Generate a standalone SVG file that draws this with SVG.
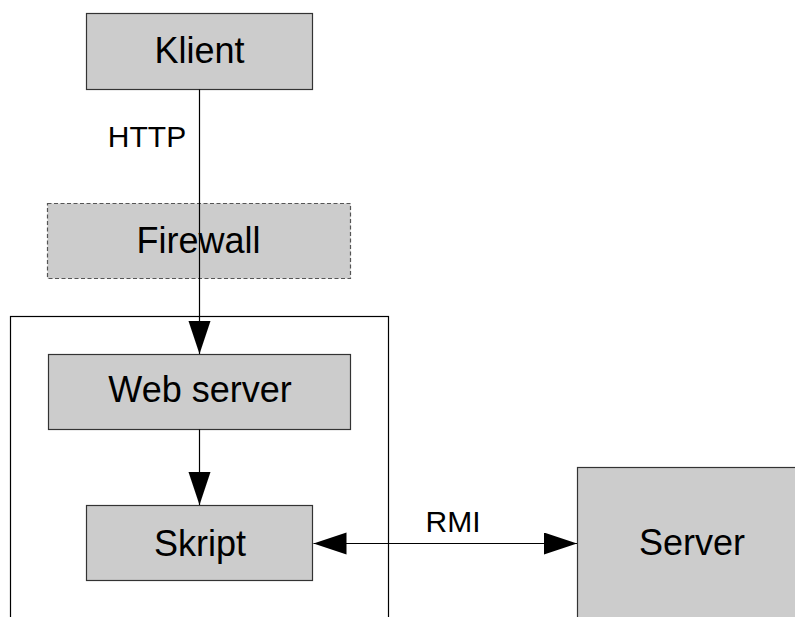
<svg xmlns="http://www.w3.org/2000/svg" width="795" height="617" viewBox="0 0 795 617">
<style>
.box{fill:#cccccc;stroke:#333333;stroke-width:1.2}
.dash{fill:#cccccc;stroke:#555555;stroke-width:1.2;stroke-dasharray:4,2.5}
.cont{fill:none;stroke:#000000;stroke-width:1.2}
.lbl{font-family:"Liberation Sans",Arial,sans-serif;font-size:36px;fill:#000000;text-anchor:middle}
.small{font-family:"Liberation Sans",Arial,sans-serif;font-size:30px;fill:#000000;text-anchor:middle}
.conn{stroke:#000000;stroke-width:1.2;fill:none}
</style>
<defs>
<marker id="ah" markerUnits="userSpaceOnUse" markerWidth="34" markerHeight="24" refX="33" refY="11" orient="auto-start-reverse" viewBox="0 0 34 24">
<path d="M0,0 L33,11 L0,22 Z" fill="#000000"/>
</marker>
</defs>
<rect width="795" height="617" fill="#ffffff"/>
<g id="container">
<rect class="cont" x="10.5" y="316.5" width="378" height="320"/>
</g>
<g id="klient">
<rect class="box" x="86.5" y="13.5" width="226" height="76"/>
<text class="lbl" x="199.5" y="63">Klient</text>
</g>
<g id="firewall">
<rect class="dash" x="47.5" y="203.5" width="303" height="75"/>
<text class="lbl" x="198.5" y="253">Firewall</text>
</g>
<g id="webserver">
<rect class="box" x="48.5" y="354.5" width="302" height="75"/>
<text class="lbl" x="200" y="402">Web server</text>
</g>
<g id="skript">
<rect class="box" x="86.5" y="505.5" width="226" height="75"/>
<text class="lbl" x="200" y="556">Skript</text>
</g>
<g id="server">
<rect class="box" x="577.5" y="467.5" width="240" height="170"/>
<text class="lbl" x="692" y="555">Server</text>
</g>
<g id="connectors">
<line class="conn" x1="199.5" y1="89.5" x2="199.5" y2="354" marker-end="url(#ah)"/>
<line class="conn" x1="199.5" y1="429.5" x2="199.5" y2="505" marker-end="url(#ah)"/>
<line class="conn" x1="313.5" y1="543.5" x2="577" y2="543.5" marker-start="url(#ah)" marker-end="url(#ah)"/>
<text class="small" x="147" y="146.5">HTTP</text>
<text class="small" x="453" y="531.5">RMI</text>
</g>
</svg>
